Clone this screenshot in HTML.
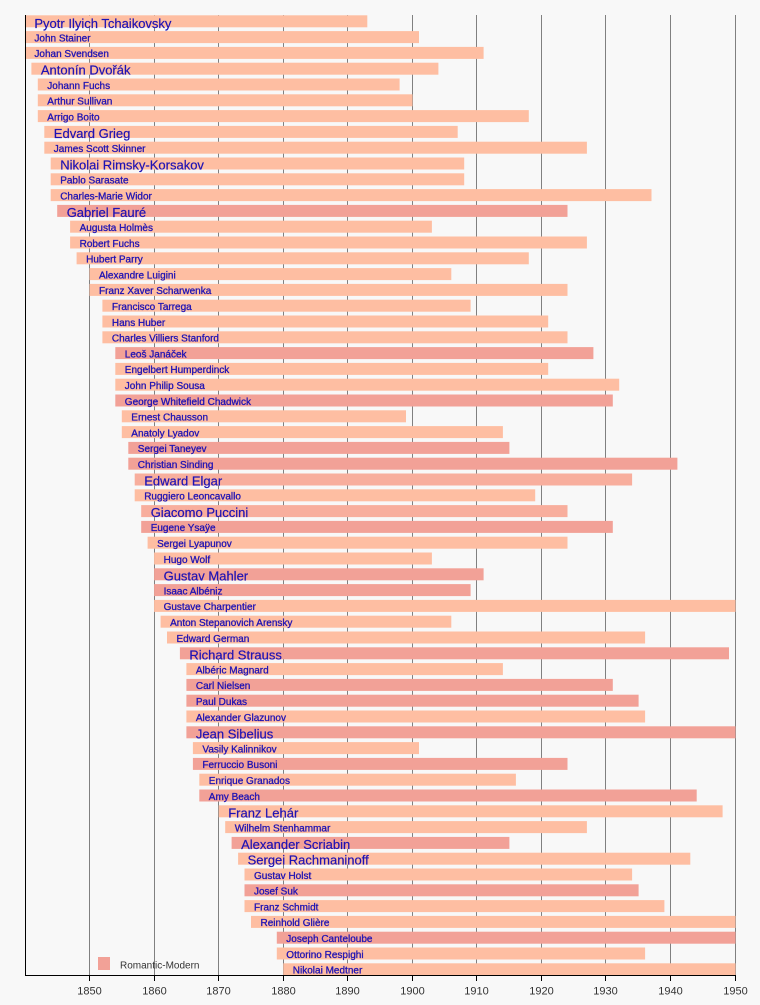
<!DOCTYPE html>
<html>
<head>
<meta charset="utf-8">
<style>
html,body{margin:0;padding:0;background:#f8f8f8;}
svg{display:block;}
.l{fill:#FEBEA2;}
.m{fill:#F8AE9D;}
.d{fill:#F2A197;}
.s{font-family:"Liberation Sans",Arial,sans-serif;font-size:10px;fill:#1e12b4;stroke:#1e12b4;stroke-width:0.3px;}
.b{font-family:"Liberation Sans",Arial,sans-serif;font-size:13px;fill:#1e12b4;stroke:#1e12b4;stroke-width:0.2px;}
.t{font-family:"Liberation Sans",Arial,sans-serif;font-size:11px;fill:#333;text-anchor:middle;}
</style>
</head>
<body>
<svg width="760" height="1005" viewBox="0 0 760 1005" xmlns="http://www.w3.org/2000/svg">
<rect x="0" y="0" width="760" height="1005" fill="#f8f8f8"/>
<g stroke="#808080" stroke-width="1">
<line x1="89.5" y1="15" x2="89.5" y2="975"/>
<line x1="154.5" y1="15" x2="154.5" y2="975"/>
<line x1="218.5" y1="15" x2="218.5" y2="975"/>
<line x1="283.5" y1="15" x2="283.5" y2="975"/>
<line x1="347.5" y1="15" x2="347.5" y2="975"/>
<line x1="412.5" y1="15" x2="412.5" y2="975"/>
<line x1="476.5" y1="15" x2="476.5" y2="975"/>
<line x1="541.5" y1="15" x2="541.5" y2="975"/>
<line x1="605.5" y1="15" x2="605.5" y2="975"/>
<line x1="670.5" y1="15" x2="670.5" y2="975"/>
<line x1="735.5" y1="15" x2="735.5" y2="975"/>
</g>

<g transform="translate(0,15.3)"><rect class="l" x="24.9" y="0" width="342.4" height="12"/><text class="b" x="34.4" y="12.5">Pyotr Ilyich Tchaikovsky</text></g>
<g transform="translate(0,31.1)"><rect class="l" x="24.9" y="0" width="394.1" height="12"/><text class="s" x="34.4" y="10.3">John Stainer</text></g>
<g transform="translate(0,46.9)"><rect class="l" x="24.9" y="0" width="458.7" height="12"/><text class="s" x="34.4" y="10.3">Johan Svendsen</text></g>
<g transform="translate(0,62.7)"><rect class="l" x="31.4" y="0" width="407" height="12"/><text class="b" x="40.9" y="12">Antonín Dvořák</text></g>
<g transform="translate(0,78.5)"><rect class="l" x="37.8" y="0" width="361.8" height="12"/><text class="s" x="47.3" y="10.3">Johann Fuchs</text></g>
<g transform="translate(0,94.3)"><rect class="l" x="37.8" y="0" width="374.7" height="12"/><text class="s" x="47.3" y="10.3">Arthur Sullivan</text></g>
<g transform="translate(0,110.1)"><rect class="l" x="37.8" y="0" width="491" height="12"/><text class="s" x="47.3" y="10.3">Arrigo Boito</text></g>
<g transform="translate(0,125.9)"><rect class="l" x="44.3" y="0" width="413.4" height="12"/><text class="b" x="53.8" y="12">Edvard Grieg</text></g>
<g transform="translate(0,141.7)"><rect class="l" x="44.3" y="0" width="542.6" height="12"/><text class="s" x="53.8" y="10.3">James Scott Skinner</text></g>
<g transform="translate(0,157.5)"><rect class="l" x="50.7" y="0" width="413.5" height="12"/><text class="b" x="60.2" y="12">Nikolai Rimsky-Korsakov</text></g>
<g transform="translate(0,173.3)"><rect class="l" x="50.7" y="0" width="413.5" height="12"/><text class="s" x="60.2" y="10.3">Pablo Sarasate</text></g>
<g transform="translate(0,189.1)"><rect class="l" x="50.7" y="0" width="600.8" height="12"/><text class="s" x="60.2" y="10.3">Charles-Marie Widor</text></g>
<g transform="translate(0,204.9)"><rect class="d" x="57.2" y="0" width="510.3" height="12"/><text class="b" x="66.7" y="12">Gabriel Fauré</text></g>
<g transform="translate(0,220.7)"><rect class="l" x="70.1" y="0" width="361.8" height="12"/><text class="s" x="79.6" y="10.3">Augusta Holmès</text></g>
<g transform="translate(0,236.5)"><rect class="l" x="70.1" y="0" width="516.8" height="12"/><text class="s" x="79.6" y="10.3">Robert Fuchs</text></g>
<g transform="translate(0,252.3)"><rect class="l" x="76.6" y="0" width="452.2" height="12"/><text class="s" x="86.1" y="10.3">Hubert Parry</text></g>
<g transform="translate(0,268.1)"><rect class="l" x="89.5" y="0" width="361.8" height="12"/><text class="s" x="99" y="10.3">Alexandre Luigini</text></g>
<g transform="translate(0,283.9)"><rect class="l" x="89.5" y="0" width="478" height="12"/><text class="s" x="99" y="10.3">Franz Xaver Scharwenka</text></g>
<g transform="translate(0,299.7)"><rect class="l" x="102.4" y="0" width="368.2" height="12"/><text class="s" x="111.9" y="10.3">Francisco Tarrega</text></g>
<g transform="translate(0,315.5)"><rect class="l" x="102.4" y="0" width="445.8" height="12"/><text class="s" x="111.9" y="10.3">Hans Huber</text></g>
<g transform="translate(0,331.3)"><rect class="l" x="102.4" y="0" width="465.1" height="12"/><text class="s" x="111.9" y="10.3">Charles Villiers Stanford</text></g>
<g transform="translate(0,347.1)"><rect class="d" x="115.3" y="0" width="478.1" height="12"/><text class="s" x="124.8" y="10.3">Leoš Janáček</text></g>
<g transform="translate(0,362.9)"><rect class="l" x="115.3" y="0" width="432.9" height="12"/><text class="s" x="124.8" y="10.3">Engelbert Humperdinck</text></g>
<g transform="translate(0,378.7)"><rect class="l" x="115.3" y="0" width="503.9" height="12"/><text class="s" x="124.8" y="10.3">John Philip Sousa</text></g>
<g transform="translate(0,394.5)"><rect class="d" x="115.3" y="0" width="497.5" height="12"/><text class="s" x="124.8" y="10.3">George Whitefield Chadwick</text></g>
<g transform="translate(0,410.3)"><rect class="l" x="121.8" y="0" width="284.2" height="12"/><text class="s" x="131.3" y="10.3">Ernest Chausson</text></g>
<g transform="translate(0,426.1)"><rect class="l" x="121.8" y="0" width="381.1" height="12"/><text class="s" x="131.3" y="10.3">Anatoly Lyadov</text></g>
<g transform="translate(0,441.9)"><rect class="d" x="128.3" y="0" width="381.1" height="12"/><text class="s" x="137.8" y="10.3">Sergei Taneyev</text></g>
<g transform="translate(0,457.7)"><rect class="d" x="128.3" y="0" width="549.1" height="12"/><text class="s" x="137.8" y="10.3">Christian Sinding</text></g>
<g transform="translate(0,473.5)"><rect class="m" x="134.7" y="0" width="497.4" height="12"/><text class="b" x="144.2" y="12">Edward Elgar</text></g>
<g transform="translate(0,489.3)"><rect class="l" x="134.7" y="0" width="400.5" height="12"/><text class="s" x="144.2" y="10.3">Ruggiero Leoncavallo</text></g>
<g transform="translate(0,505.1)"><rect class="m" x="141.2" y="0" width="426.3" height="12"/><text class="b" x="150.7" y="12">Giacomo Puccini</text></g>
<g transform="translate(0,520.9)"><rect class="d" x="141.2" y="0" width="471.6" height="12"/><text class="s" x="150.7" y="10.3">Eugene Ysaÿe</text></g>
<g transform="translate(0,536.7)"><rect class="l" x="147.6" y="0" width="419.9" height="12"/><text class="s" x="157.1" y="10.3">Sergei Lyapunov</text></g>
<g transform="translate(0,552.5)"><rect class="l" x="154.1" y="0" width="277.8" height="12"/><text class="s" x="163.6" y="10.3">Hugo Wolf</text></g>
<g transform="translate(0,568.3)"><rect class="d" x="154.1" y="0" width="329.5" height="12"/><text class="b" x="163.6" y="12">Gustav Mahler</text></g>
<g transform="translate(0,584.1)"><rect class="d" x="154.1" y="0" width="316.5" height="12"/><text class="s" x="163.6" y="10.3">Isaac Albéniz</text></g>
<g transform="translate(0,599.9)"><rect class="l" x="154.1" y="0" width="581.4" height="12"/><text class="s" x="163.6" y="10.3">Gustave Charpentier</text></g>
<g transform="translate(0,615.7)"><rect class="l" x="160.6" y="0" width="290.7" height="12"/><text class="s" x="170.1" y="10.3">Anton Stepanovich Arensky</text></g>
<g transform="translate(0,631.5)"><rect class="l" x="167" y="0" width="478.1" height="12"/><text class="s" x="176.5" y="10.3">Edward German</text></g>
<g transform="translate(0,647.3)"><rect class="d" x="179.9" y="0" width="549.1" height="12"/><text class="b" x="189.4" y="12">Richard Strauss</text></g>
<g transform="translate(0,663.1)"><rect class="l" x="186.4" y="0" width="316.5" height="12"/><text class="s" x="195.9" y="10.3">Albéric Magnard</text></g>
<g transform="translate(0,678.9)"><rect class="d" x="186.4" y="0" width="426.4" height="12"/><text class="s" x="195.9" y="10.3">Carl Nielsen</text></g>
<g transform="translate(0,694.7)"><rect class="d" x="186.4" y="0" width="452.2" height="12"/><text class="s" x="195.9" y="10.3">Paul Dukas</text></g>
<g transform="translate(0,710.5)"><rect class="l" x="186.4" y="0" width="458.7" height="12"/><text class="s" x="195.9" y="10.3">Alexander Glazunov</text></g>
<g transform="translate(0,726.3)"><rect class="d" x="186.4" y="0" width="549.1" height="12"/><text class="b" x="195.9" y="12">Jean Sibelius</text></g>
<g transform="translate(0,742.1)"><rect class="l" x="192.9" y="0" width="226.1" height="12"/><text class="s" x="202.4" y="10.3">Vasily Kalinnikov</text></g>
<g transform="translate(0,757.9)"><rect class="d" x="192.9" y="0" width="374.6" height="12"/><text class="s" x="202.4" y="10.3">Ferruccio Busoni</text></g>
<g transform="translate(0,773.7)"><rect class="l" x="199.3" y="0" width="316.6" height="12"/><text class="s" x="208.8" y="10.3">Enrique Granados</text></g>
<g transform="translate(0,789.5)"><rect class="d" x="199.3" y="0" width="497.4" height="12"/><text class="s" x="208.8" y="10.3">Amy Beach</text></g>
<g transform="translate(0,805.3)"><rect class="l" x="218.7" y="0" width="503.9" height="12"/><text class="b" x="228.2" y="12">Franz Lehár</text></g>
<g transform="translate(0,821.1)"><rect class="l" x="225.2" y="0" width="361.7" height="12"/><text class="s" x="234.7" y="10.3">Wilhelm Stenhammar</text></g>
<g transform="translate(0,836.9)"><rect class="d" x="231.6" y="0" width="277.8" height="12"/><text class="b" x="241.1" y="12">Alexander Scriabin</text></g>
<g transform="translate(0,852.7)"><rect class="l" x="238.1" y="0" width="452.2" height="12"/><text class="b" x="247.6" y="12">Sergei Rachmaninoff</text></g>
<g transform="translate(0,868.5)"><rect class="l" x="244.5" y="0" width="387.6" height="12"/><text class="s" x="254" y="10.3">Gustav Holst</text></g>
<g transform="translate(0,884.3)"><rect class="d" x="244.5" y="0" width="394.1" height="12"/><text class="s" x="254" y="10.3">Josef Suk</text></g>
<g transform="translate(0,900.1)"><rect class="l" x="244.5" y="0" width="419.9" height="12"/><text class="s" x="254" y="10.3">Franz Schmidt</text></g>
<g transform="translate(0,915.9)"><rect class="l" x="251" y="0" width="484.5" height="12"/><text class="s" x="260.5" y="10.3">Reinhold Glière</text></g>
<g transform="translate(0,931.7)"><rect class="d" x="276.8" y="0" width="458.7" height="12"/><text class="s" x="286.3" y="10.3">Joseph Canteloube</text></g>
<g transform="translate(0,947.5)"><rect class="l" x="276.8" y="0" width="368.3" height="12"/><text class="s" x="286.3" y="10.3">Ottorino Respighi</text></g>
<g transform="translate(0,963.3)"><rect class="l" x="283.3" y="0" width="452.2" height="11.7"/><text class="s" x="292.8" y="10.3">Nikolai Medtner</text></g>

<rect x="98" y="957" width="12" height="13" fill="#F2A197"/>
<text x="120" y="968.5" font-family="Liberation Sans, Arial, sans-serif" font-size="10" fill="#333">Romantic-Modern</text>

<g stroke="#000" stroke-width="1">
<line x1="25.5" y1="15" x2="25.5" y2="975.5"/>
<line x1="25" y1="975.5" x2="736" y2="975.5"/>
<line x1="89.5" y1="975" x2="89.5" y2="981"/>
<line x1="154.5" y1="975" x2="154.5" y2="981"/>
<line x1="218.5" y1="975" x2="218.5" y2="981"/>
<line x1="283.5" y1="975" x2="283.5" y2="981"/>
<line x1="347.5" y1="975" x2="347.5" y2="981"/>
<line x1="412.5" y1="975" x2="412.5" y2="981"/>
<line x1="476.5" y1="975" x2="476.5" y2="981"/>
<line x1="541.5" y1="975" x2="541.5" y2="981"/>
<line x1="605.5" y1="975" x2="605.5" y2="981"/>
<line x1="670.5" y1="975" x2="670.5" y2="981"/>
<line x1="735.5" y1="975" x2="735.5" y2="981"/>
</g>
<text class="t" x="89.5" y="994.5">1850</text>
<text class="t" x="154.5" y="994.5">1860</text>
<text class="t" x="218.5" y="994.5">1870</text>
<text class="t" x="283.5" y="994.5">1880</text>
<text class="t" x="347.5" y="994.5">1890</text>
<text class="t" x="412.5" y="994.5">1900</text>
<text class="t" x="476.5" y="994.5">1910</text>
<text class="t" x="541.5" y="994.5">1920</text>
<text class="t" x="605.5" y="994.5">1930</text>
<text class="t" x="670.5" y="994.5">1940</text>
<text class="t" x="735.5" y="994.5">1950</text>
</svg>
</body>
</html>
